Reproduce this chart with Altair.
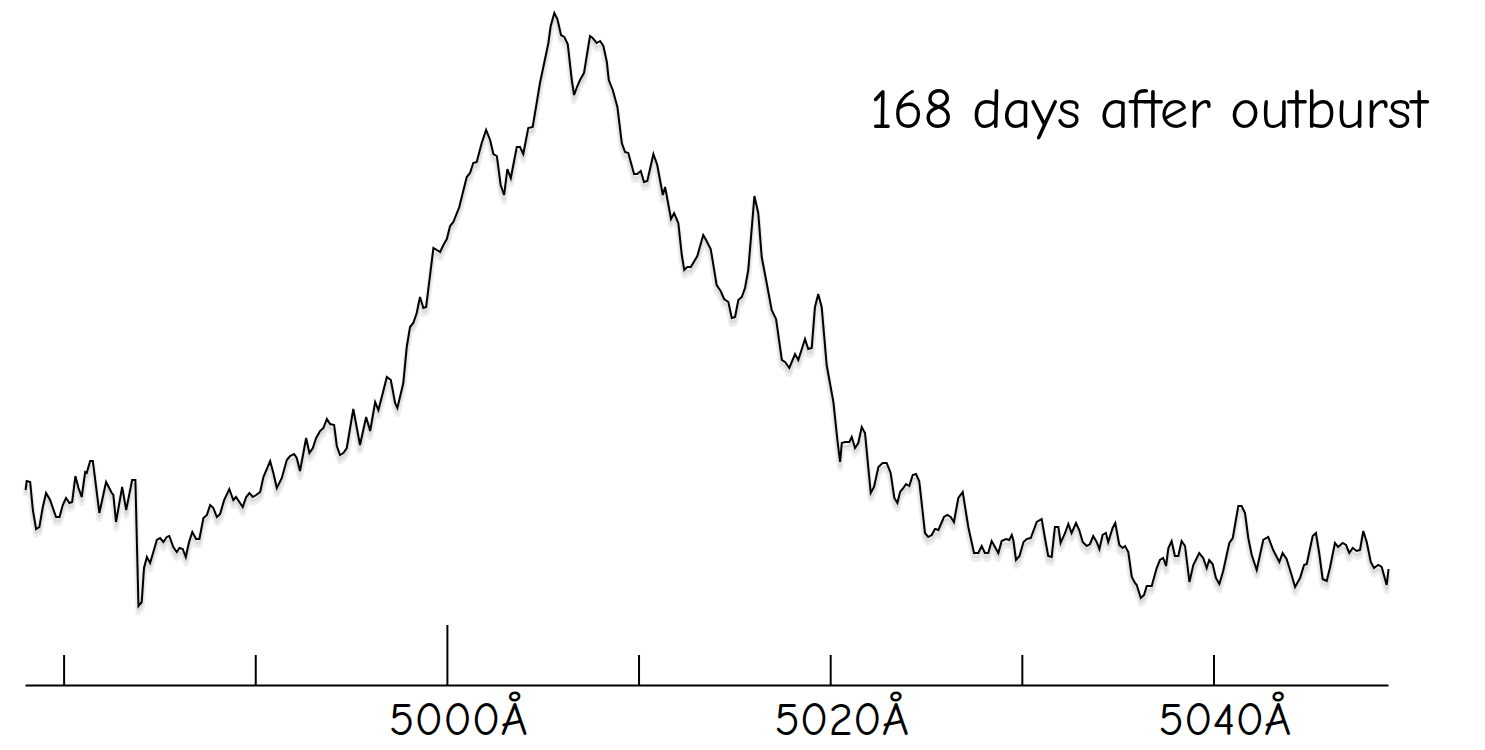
import altair as alt
import pandas as pd

# Wavelength (Å) of each traced spectrum sample
wavelength = [
    4977.99, 4978.05, 4978.23, 4978.37, 4978.54, 4978.71, 4978.89, 4979.06, 4979.27, 4979.58,
    4979.76, 4979.93, 4980.10, 4980.28, 4980.42, 4980.59, 4980.75, 4980.92, 4981.10, 4981.18,
    4981.36, 4981.50, 4981.84, 4982.19, 4982.49, 4982.57, 4982.71, 4983.03, 4983.24, 4983.55,
    4983.72, 4983.88, 4984.05, 4984.17, 4984.32, 4984.49, 4984.84, 4985.01, 4985.18, 4985.36,
    4985.49, 4985.70, 4985.88, 4986.02, 4986.19, 4986.35, 4986.52, 4986.69, 4986.89, 4987.06,
    4987.27, 4987.45, 4987.62, 4987.79, 4987.97, 4988.14, 4988.35, 4988.62, 4988.83, 4988.97,
    4989.32, 4989.50, 4989.67, 4989.85, 4990.02, 4990.23, 4990.40, 4990.75, 4990.92, 4991.10,
    4991.36, 4991.62, 4991.79, 4992.00, 4992.14, 4992.31, 4992.63, 4992.80, 4992.98, 4993.15,
    4993.36, 4993.53, 4993.71, 4993.88, 4994.09, 4994.23, 4994.40, 4994.57, 4994.75, 4995.09,
    4995.44, 4995.76, 4995.97, 4996.23, 4996.40, 4996.63, 4996.84, 4997.05, 4997.27, 4997.39,
    4997.70, 4997.88, 4998.05, 4998.22, 4998.40, 4998.57, 4998.75, 4998.89, 4999.27, 4999.62,
    4999.79, 4999.97, 5000.14, 5000.31, 5000.62, 5001.01, 5001.18, 5001.35, 5001.53, 5001.79,
    5002.02, 5002.23, 5002.40, 5002.58, 5002.78, 5002.96, 5003.13, 5003.31, 5003.62, 5003.79,
    5003.96, 5004.22, 5004.45, 5004.66, 5004.83, 5005.27, 5005.39, 5005.58, 5005.74, 5005.93,
    5006.10, 5006.28, 5006.49, 5006.61, 5006.78, 5006.92, 5007.13, 5007.44, 5007.58, 5007.79,
    5007.97, 5008.14, 5008.32, 5008.42, 5008.63, 5008.87, 5009.10, 5009.27, 5009.44, 5009.74,
    5009.91, 5010.09, 5010.26, 5010.43, 5010.75, 5010.95, 5011.24, 5011.36, 5011.67, 5011.83,
    5012.05, 5012.23, 5012.36, 5012.52, 5012.70, 5013.04, 5013.35, 5013.50, 5013.74, 5014.05,
    5014.26, 5014.44, 5014.66, 5014.84, 5015.01, 5015.18, 5015.36, 5015.53, 5015.70, 5015.83,
    5016.02, 5016.22, 5016.40, 5016.66, 5016.92, 5017.15, 5017.45, 5017.62, 5017.84, 5018.14,
    5018.31, 5018.66, 5018.83, 5019.01, 5019.18, 5019.35, 5019.53, 5019.79, 5020.14, 5020.35,
    5020.49, 5020.58, 5020.75, 5020.97, 5021.10, 5021.27, 5021.44, 5021.62, 5021.79, 5022.09,
    5022.26, 5022.49, 5022.71, 5022.92, 5023.13, 5023.32, 5023.48, 5023.62, 5023.79, 5023.93,
    5024.10, 5024.28, 5024.45, 5024.62, 5024.92, 5025.09, 5025.27, 5025.44, 5025.62, 5025.91,
    5026.09, 5026.26, 5026.43, 5026.66, 5026.89, 5027.18, 5027.48, 5027.70, 5027.88, 5028.05,
    5028.22, 5028.40, 5028.75, 5028.92, 5029.15, 5029.32, 5029.45, 5029.53, 5029.67, 5029.85,
    5030.06, 5030.24, 5030.44, 5030.75, 5031.01, 5031.18, 5031.35, 5031.53, 5031.70, 5031.88,
    5032.00, 5032.23, 5032.40, 5032.57, 5032.80, 5032.97, 5033.15, 5033.36, 5033.53, 5033.70,
    5033.88, 5034.02, 5034.19, 5034.36, 5034.48, 5034.71, 5034.85, 5035.06, 5035.24, 5035.36,
    5035.53, 5035.71, 5035.88, 5035.97, 5036.18, 5036.35, 5036.49, 5036.75, 5037.01, 5037.18,
    5037.35, 5037.50, 5037.62, 5037.79, 5037.96, 5038.14, 5038.31, 5038.49, 5038.72, 5038.92,
    5039.23, 5039.44, 5039.62, 5039.75, 5039.93, 5040.10, 5040.28, 5040.48, 5040.80, 5040.98,
    5041.27, 5041.44, 5041.62, 5041.79, 5041.97, 5042.23, 5042.57, 5042.83, 5043.09, 5043.41,
    5043.58, 5043.79, 5044.05, 5044.23, 5044.49, 5044.70, 5044.84, 5045.15, 5045.32, 5045.49,
    5045.67, 5045.88, 5046.05, 5046.31, 5046.48, 5046.71, 5046.89, 5047.06, 5047.24, 5047.44,
    5047.62, 5047.79, 5047.97, 5048.18, 5048.35, 5048.57, 5048.75, 5049.01, 5049.11,
]

# Relative flux (arbitrary units, 0 at the axis line)
flux = [
    1.95, 2.04, 2.03, 1.75, 1.56, 1.58, 1.78, 1.92, 1.85, 1.68,
    1.68, 1.80, 1.87, 1.82, 1.83, 2.09, 1.97, 1.88, 2.13, 2.12,
    2.24, 2.24, 1.72, 2.03, 1.92, 1.90, 1.63, 1.98, 1.75, 2.05,
    2.05, 0.79, 0.83, 1.17, 1.28, 1.22, 1.45, 1.47, 1.43, 1.48,
    1.49, 1.38, 1.33, 1.37, 1.36, 1.28, 1.43, 1.53, 1.46, 1.46,
    1.67, 1.70, 1.80, 1.77, 1.68, 1.71, 1.85, 1.96, 1.85, 1.88,
    1.78, 1.88, 1.92, 1.88, 1.90, 1.93, 2.08, 2.24, 2.12, 1.97,
    2.07, 2.25, 2.29, 2.31, 2.27, 2.14, 2.47, 2.32, 2.37, 2.47,
    2.54, 2.57, 2.66, 2.61, 2.60, 2.39, 2.30, 2.32, 2.37, 2.76,
    2.40, 2.68, 2.54, 2.83, 2.75, 2.92, 3.08, 3.05, 2.82, 2.77,
    3.02, 3.38, 3.58, 3.62, 3.72, 3.88, 3.77, 3.78, 4.37, 4.33,
    4.40, 4.46, 4.59, 4.63, 4.78, 5.08, 5.12, 5.22, 5.23, 5.42,
    5.55, 5.45, 5.31, 5.29, 5.00, 4.90, 5.16, 5.07, 5.38, 5.38,
    5.31, 5.57, 5.58, 5.82, 6.02, 6.42, 6.59, 6.72, 6.66, 6.50,
    6.48, 6.41, 6.05, 5.90, 5.99, 6.05, 6.12, 6.49, 6.47, 6.42,
    6.44, 6.39, 6.23, 6.05, 5.95, 5.78, 5.42, 5.33, 5.32, 5.11,
    5.11, 5.14, 5.03, 5.04, 5.31, 5.20, 4.90, 4.98, 4.66, 4.72,
    4.62, 4.30, 4.15, 4.18, 4.18, 4.29, 4.50, 4.45, 4.36, 4.00,
    3.94, 3.86, 3.83, 3.67, 3.68, 3.85, 3.88, 3.97, 4.15, 4.45,
    4.89, 4.72, 4.28, 4.02, 3.75, 3.66, 3.25, 3.23, 3.17, 3.31,
    3.25, 3.46, 3.36, 3.37, 3.78, 3.91, 3.78, 3.20, 2.83, 2.45,
    2.23, 2.42, 2.43, 2.43, 2.48, 2.37, 2.42, 2.58, 2.52, 1.92,
    1.98, 2.18, 2.22, 2.22, 2.12, 1.87, 1.82, 1.93, 1.97, 2.01,
    1.99, 2.10, 2.11, 2.04, 1.52, 1.48, 1.50, 1.56, 1.55, 1.68,
    1.70, 1.68, 1.63, 1.87, 1.93, 1.58, 1.32, 1.32, 1.39, 1.32,
    1.32, 1.44, 1.32, 1.44, 1.46, 1.45, 1.50, 1.45, 1.25, 1.29,
    1.43, 1.46, 1.47, 1.63, 1.66, 1.47, 1.29, 1.28, 1.58, 1.58,
    1.42, 1.52, 1.61, 1.52, 1.62, 1.55, 1.43, 1.39, 1.41, 1.49,
    1.43, 1.36, 1.50, 1.52, 1.43, 1.57, 1.62, 1.40, 1.37, 1.39,
    1.33, 1.08, 1.02, 1.00, 0.87, 0.90, 0.99, 0.99, 1.17, 1.25,
    1.27, 1.19, 1.37, 1.44, 1.29, 1.29, 1.44, 1.39, 1.03, 1.20,
    1.32, 1.27, 1.17, 1.25, 1.21, 1.07, 1.01, 1.14, 1.42, 1.47,
    1.79, 1.79, 1.72, 1.47, 1.30, 1.15, 1.45, 1.48, 1.35, 1.23,
    1.32, 1.26, 1.10, 0.98, 1.07, 1.20, 1.21, 1.49, 1.52, 1.32,
    1.06, 1.04, 1.17, 1.42, 1.38, 1.42, 1.40, 1.32, 1.37, 1.34,
    1.35, 1.54, 1.43, 1.23, 1.17, 1.20, 1.18, 1.00, 1.16,
]

minor_ticks = [4980, 4990, 5010, 5020, 5030, 5040]
major_ticks = [5000]
label_values = [5000, 5020, 5040]
label_texts = ["5000Å", "5020Å", "5040Å"]
title_text = "168 days after outburst"

FONT = "Comic Sans MS, Comic Neue, Chalkboard, Lato, sans-serif"

spec = pd.DataFrame({"wavelength": wavelength, "flux": flux})
minor_df = pd.DataFrame({"wavelength": minor_ticks})
major_df = pd.DataFrame({"wavelength": major_ticks})
labels_df = pd.DataFrame({"wavelength": label_values, "label": label_texts})

xscale = alt.Scale(domain=[4977.96, 5049.08], nice=False, zero=False)
yscale = alt.Scale(domain=[0, 6.77], nice=False, zero=False)

x_enc = alt.X("wavelength:Q", scale=xscale,
              axis=alt.Axis(domain=True, domainColor="#000000", domainWidth=2,
                            ticks=False, labels=False, grid=False, title=None))
y_enc = alt.Y("flux:Q", scale=yscale, axis=None)

shadow = alt.Chart(spec).mark_line(
    color="#000000", strokeWidth=6, opacity=0.07, yOffset=6, strokeJoin="round"
).encode(x=x_enc, y=y_enc)

shadow2 = alt.Chart(spec).mark_line(
    color="#000000", strokeWidth=3, opacity=0.07, yOffset=4, strokeJoin="round"
).encode(x=x_enc, y=y_enc)

line = alt.Chart(spec).mark_line(
    color="#000000", strokeWidth=2, strokeJoin="miter"
).encode(x=x_enc, y=y_enc)

minor = alt.Chart(minor_df).mark_rule(color="#000000", strokeWidth=2).encode(
    x=alt.X("wavelength:Q", scale=xscale),
    y=alt.datum(0, scale=yscale),
    y2=alt.datum(0.30),
)

major = alt.Chart(major_df).mark_rule(color="#000000", strokeWidth=2).encode(
    x=alt.X("wavelength:Q", scale=xscale),
    y=alt.datum(0, scale=yscale),
    y2=alt.datum(0.60),
)

labels = alt.Chart(labels_df).mark_text(
    font=FONT, fontSize=47, color="#000000", align="center", baseline="alphabetic", dx=11
).encode(
    x=alt.X("wavelength:Q", scale=xscale),
    y=alt.value(727),
    text="label:N",
)

title = alt.Chart(pd.DataFrame({"t": [title_text]})).mark_text(
    font=FONT, fontSize=57, color="#000000", align="center", baseline="alphabetic"
).encode(
    x=alt.value(1124),
    y=alt.value(120),
    text="t:N",
)

chart = alt.layer(shadow, shadow2, line, minor, major, labels, title).properties(
    width=1363,
    height=677,
    padding={"left": 17, "top": 0, "right": 80, "bottom": 70},
    autosize=alt.AutoSizeParams(type="none"),
).configure_view(stroke=None)

chart.save("out.html", embed_options={"renderer": "svg", "actions": False})
